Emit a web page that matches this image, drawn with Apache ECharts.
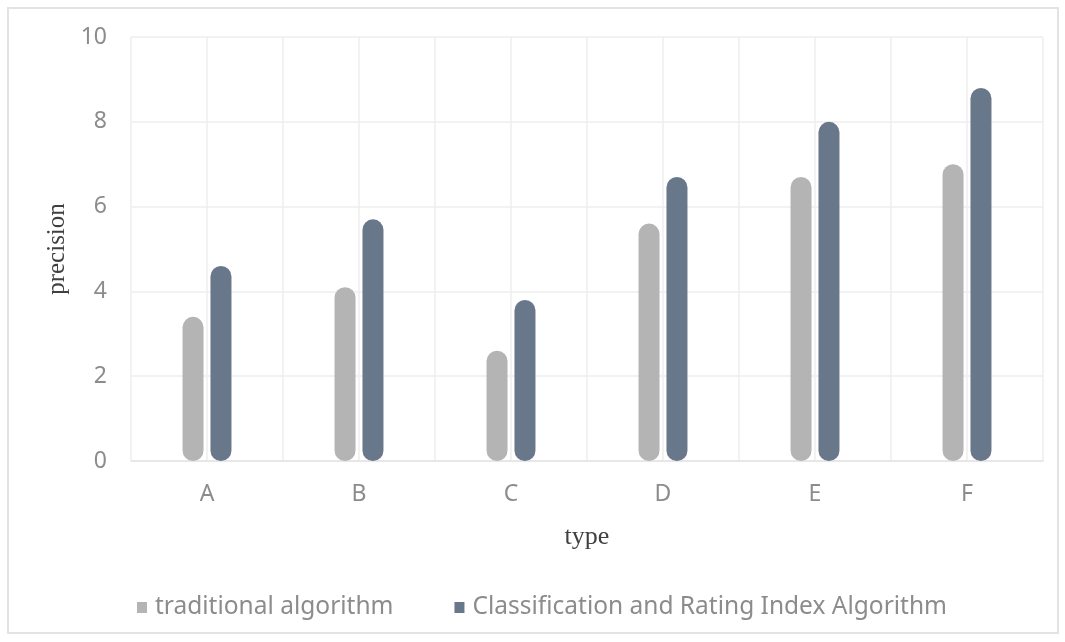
<!DOCTYPE html>
<html>
<head>
<meta charset="utf-8">
<script src="https://cdn.jsdelivr.net/npm/echarts@6/dist/echarts.min.js"></script>
<style>
html,body{margin:0;padding:0;background:#fff;}
#c{width:1065px;height:642px;}
</style>
</head>
<body>
<div id="c"></div>
<script>
const categories = ['A','B','C','D','E','F'];
const traditional = [3.4, 4.1, 2.6, 5.6, 6.7, 7.0];
const classification = [4.6, 5.7, 3.8, 6.7, 8.0, 8.8];
const seriesNames = ['traditional algorithm', 'Classification and Rating Index Algorithm'];

const chart = echarts.init(document.getElementById('c'));
const labelFont = '"Noto Sans", "DejaVu Sans", sans-serif';
const serifFont = '"Liberation Serif", "Times New Roman", serif';
chart.setOption({
  animation: false,
  graphic: [{
    type: 'rect', left: 7, top: 7, silent: true, z: -10,
    shape: {width: 1050, height: 625},
    style: {fill: '#fff', stroke: '#e3e3e3', lineWidth: 2}
  }],
  grid: {left: 131, right: 22, top: 37, bottom: 181},
  legend: {
    bottom: 17, left: 132,
    itemWidth: 10, itemHeight: 11, itemGap: 61,
    icon: 'rect',
    textStyle: {fontFamily: labelFont, fontSize: 24.5, color: '#8c8c8c', padding: [0,0,0,3]},
    data: seriesNames
  },
  xAxis: [{
    type: 'category', data: categories,
    name: 'type', nameLocation: 'middle', nameGap: 63,
    nameTextStyle: {fontFamily: serifFont, fontSize: 26, color: '#404040'},
    axisLine: {lineStyle: {color: '#e3e3e3', width: 1.5}},
    axisTick: {show: false},
    axisLabel: {fontFamily: labelFont, fontSize: 23, color: '#8c8c8c', margin: 22},
    splitLine: {show: false}
  }, {
    type: 'value', min: 0, max: 12, interval: 1, position: 'bottom',
    axisLine: {show: false}, axisTick: {show: false}, axisLabel: {show: false},
    splitLine: {show: true, lineStyle: {color: '#eeeeee', width: 1.5}}
  }],
  yAxis: {
    type: 'value', min: 0, max: 10, interval: 2,
    name: 'precision', nameLocation: 'middle', nameGap: 60, nameRotate: 90,
    nameTextStyle: {fontFamily: serifFont, fontSize: 25, color: '#404040'},
    axisLine: {show: false}, axisTick: {show: false},
    axisLabel: {fontFamily: labelFont, fontSize: 23, color: '#8c8c8c', margin: 24},
    splitLine: {lineStyle: {color: '#eeeeee', width: 1.5}}
  },
  series: [{
    name: seriesNames[0], type: 'bar', data: traditional, xAxisIndex: 0,
    barWidth: 21, barGap: '33%',
    itemStyle: {color: '#b3b4b3', borderRadius: 10.5}
  }, {
    name: seriesNames[1], type: 'bar', data: classification, xAxisIndex: 0,
    barWidth: 21, barGap: '33%',
    itemStyle: {color: '#687789', borderRadius: 10.5}
  }]
});
</script>
</body>
</html>
